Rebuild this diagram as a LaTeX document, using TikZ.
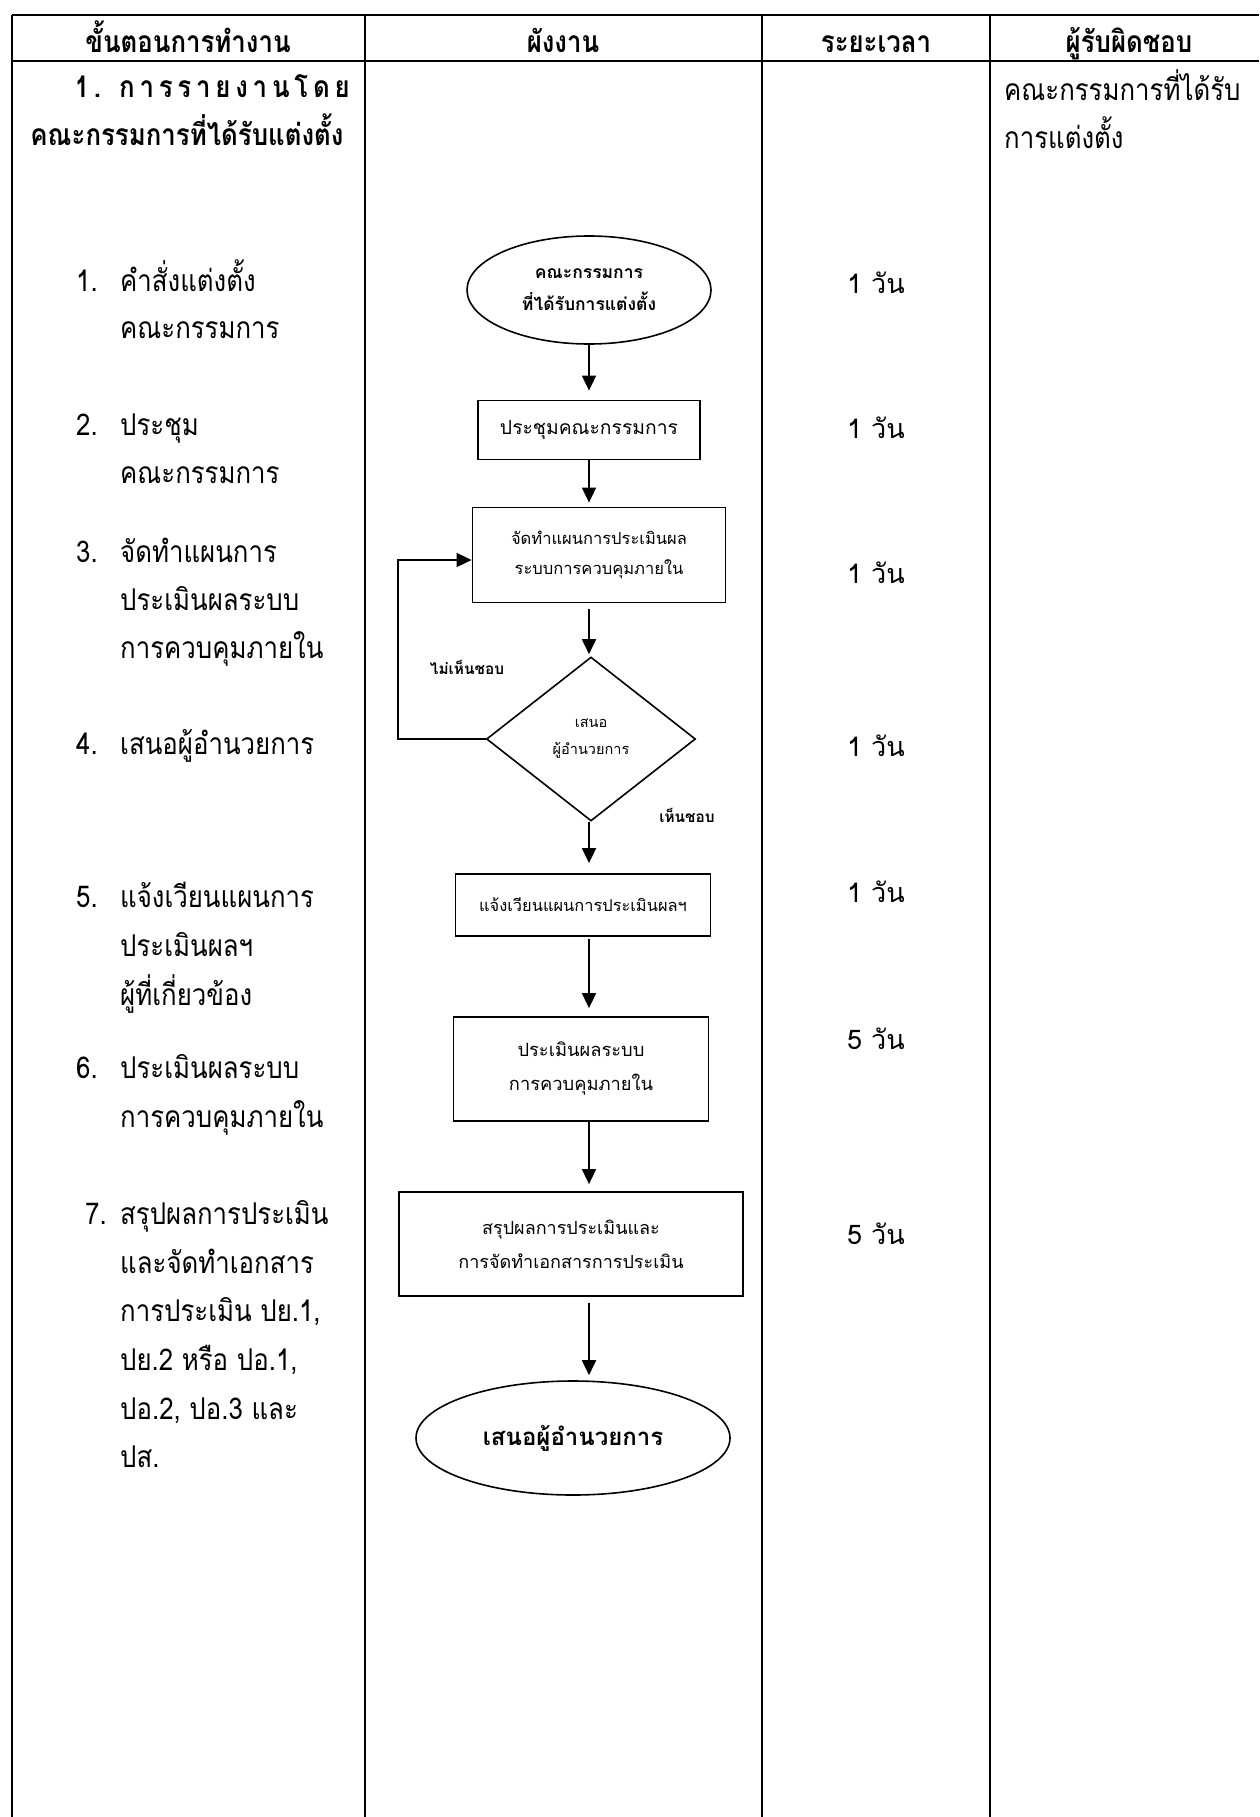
\documentclass[tikz,border=0pt]{standalone}
\usepackage{fontspec}
\newfontfamily\thai[Script=Thai]{Loma}
\newfontfamily\thaic[Script=Thai,FakeStretch=0.86]{Loma}
\usetikzlibrary{shapes.geometric,arrows.meta}
\tikzset{
  x=1pt,y=-1pt,
  tline/.style={line width=1.8pt},
  body/.style={font=\thaic\fontsize{30}{36}\selectfont,inner sep=0pt,anchor=base west},
  hdr/.style={font=\thaic\bfseries\fontsize{30}{36}\selectfont,inner sep=0pt,anchor=base},
  dur/.style={font=\thai\fontsize{27}{36}\selectfont,inner sep=0pt,anchor=base},
  box/.style={draw,line width=1.8pt,rectangle,inner sep=0pt,align=center},
  ell/.style={draw,line width=1.6pt,ellipse,inner sep=0pt,align=center},
  dia/.style={draw,line width=1.6pt,diamond,inner sep=0pt,align=center},
  arr/.style={line width=1.8pt,-{Triangle[length=15pt,width=14pt]}},
  lbl/.style={font=\thai\bfseries\fontsize{15.4}{20}\selectfont,inner sep=0pt},
}
\begin{document}
\begin{tikzpicture}
\useasboundingbox (0,0) rectangle (1259,1817);
\fill[white] (0,0) rectangle (1259,1817);
% table
\draw[tline] (12,15) -- (1259,15);
\draw[tline] (12,61) -- (1259,61);
\draw[tline] (12,15) -- (12,1817);
\draw[tline] (365,15) -- (365,1817);
\draw[tline] (762,15) -- (762,1817);
\draw[tline] (990,15) -- (990,1817);
% header
\node[hdr] (h1) at (188,53) {ขั้นตอนการทำงาน};
\node[hdr] (h2) at (563,53) {ผังงาน};
\node[hdr] (h3) at (876,53) {ระยะเวลา};
\node[hdr] (h4) at (1129,53) {ผู้รับผิดชอบ};
% section title
\node[font=\thaic\bfseries\fontsize{30}{36}\selectfont\addfontfeature{LetterSpace=16},inner sep=0pt,anchor=base east] (t1) at (350,98) {1. การรายงานโดย};
\node[hdr] (t2) at (187,146) {คณะกรรมการที่ได้รับแต่งตั้ง};
\node[body] (rp1) at (1004,101) {คณะกรรมการที่ได้รับ};
\node[body] (rp2) at (1004,148) {การแต่งตั้ง};
% steps
\node[body] (n1) at (76,291) {1.};
\node[body] (s1a) at (120,291) {คำสั่งแต่งตั้ง};
\node[body] (s1b) at (120,338) {คณะกรรมการ};
\node[body] (n2) at (76,435) {2.};
\node[body] (s2a) at (120,435) {ประชุม};
\node[body] (s2b) at (120,483) {คณะกรรมการ};
\node[body] (n3) at (76,562) {3.};
\node[body] (s3a) at (120,562) {จัดทำแผนการ};
\node[body] (s3b) at (120,610) {ประเมินผลระบบ};
\node[body] (s3c) at (120,658) {การควบคุมภายใน};
\node[body] (n4) at (76,754) {4.};
\node[body] (s4a) at (120,754) {เสนอผู้อำนวยการ};
\node[body] (n5) at (76,907) {5.};
\node[body] (s5a) at (120,907) {แจ้งเวียนแผนการ};
\node[body] (s5b) at (120,956) {ประเมินผลฯ};
\node[body] (s5c) at (120,1005) {ผู้ที่เกี่ยวข้อง};
\node[body] (n6) at (76,1078) {6.};
\node[body] (s6a) at (120,1078) {ประเมินผลระบบ};
\node[body] (s6b) at (120,1127) {การควบคุมภายใน};
\node[body] (n7) at (85,1224) {7.};
\node[body] (s7a) at (120,1224) {สรุปผลการประเมิน};
\node[body] (s7b) at (120,1273) {และจัดทำเอกสาร};
\node[body] (s7c) at (120,1321) {การประเมิน ปย.1,};
\node[body] (s7d) at (120,1370) {ปย.2 หรือ ปอ.1,};
\node[body] (s7e) at (120,1419) {ปอ.2, ปอ.3 และ};
\node[body] (s7f) at (120,1467) {ปส.};
% durations
\node[dur] (d1) at (876,293) {1 วัน};
\node[dur] (d2) at (876,438) {1 วัน};
\node[dur] (d3) at (876,583) {1 วัน};
\node[dur] (d4) at (876,756) {1 วัน};
\node[dur] (d5) at (876,902) {1 วัน};
\node[dur] (d6) at (876,1049) {5 วัน};
\node[dur] (d7) at (876,1244) {5 วัน};
% flowchart
\node[ell,minimum width=244,minimum height=108,font=\thai\bfseries\fontsize{17.5}{32}\selectfont] (e1) at (589,290) {คณะกรรมการ\\ที่ได้รับการแต่งตั้ง};
\node[box,minimum width=222,minimum height=59,font=\thai\fontsize{19.3}{30}\selectfont] (r2) at (589,430) {ประชุมคณะกรรมการ};
\node[box,minimum width=253,minimum height=95,font=\thai\fontsize{16.5}{30}\selectfont] (r3) at (599,555) {จัดทำแผนการประเมินผล\\ระบบการควบคุมภายใน};
\node[dia,minimum width=209,minimum height=164,font=\thai\fontsize{14.5}{27}\selectfont] (d) at (591,739) {เสนอ\\ผู้อำนวยการ};
\node[box,minimum width=255,minimum height=62,font=\thai\fontsize{16.4}{30}\selectfont] (r5) at (583,905) {แจ้งเวียนแผนการประเมินผลฯ};
\node[box,minimum width=255,minimum height=104,font=\thai\fontsize{18.3}{34}\selectfont] (r6) at (581,1069) {ประเมินผลระบบ\\การควบคุมภายใน};
\node[box,minimum width=344,minimum height=104,font=\thai\fontsize{18}{34}\selectfont] (r7) at (571,1244) {สรุปผลการประเมินและ\\การจัดทำเอกสารการประเมิน};
\node[ell,minimum width=314,minimum height=114,font=\thai\bfseries\fontsize{24}{32}\selectfont] (e2) at (573,1438) {เสนอผู้อำนวยการ};
\node[lbl] (no) at (467,667) {ไม่เห็นชอบ};
\node[lbl] (yes) at (687,815) {เห็นชอบ};
\coordinate (ax) at (589,0);
\coordinate (lp) at (398,560);
\draw[arr,shorten >=9pt] (e1.south -| ax) -- (r2.north -| ax);
\draw[arr,shorten >=4pt] (r2.south -| ax) -- (r3.north -| ax);
\draw[arr,shorten <=6pt,shorten >=2pt] (r3.south -| ax) -- (d.north -| ax);
\draw[arr,shorten >=10pt] (d.south -| ax) -- (r5.north -| ax);
\draw[arr,shorten <=2pt,shorten >=8pt] (r5.south -| ax) -- (r6.north -| ax);
\draw[arr,shorten >=7pt] (r6.south -| ax) -- (r7.north -| ax);
\draw[arr,shorten <=6pt,shorten >=5pt] (r7.south -| ax) -- (e2.north -| ax);
\draw[arr] (d.west) -| (lp) -- (lp -| r3.west);
\end{tikzpicture}
\end{document}
